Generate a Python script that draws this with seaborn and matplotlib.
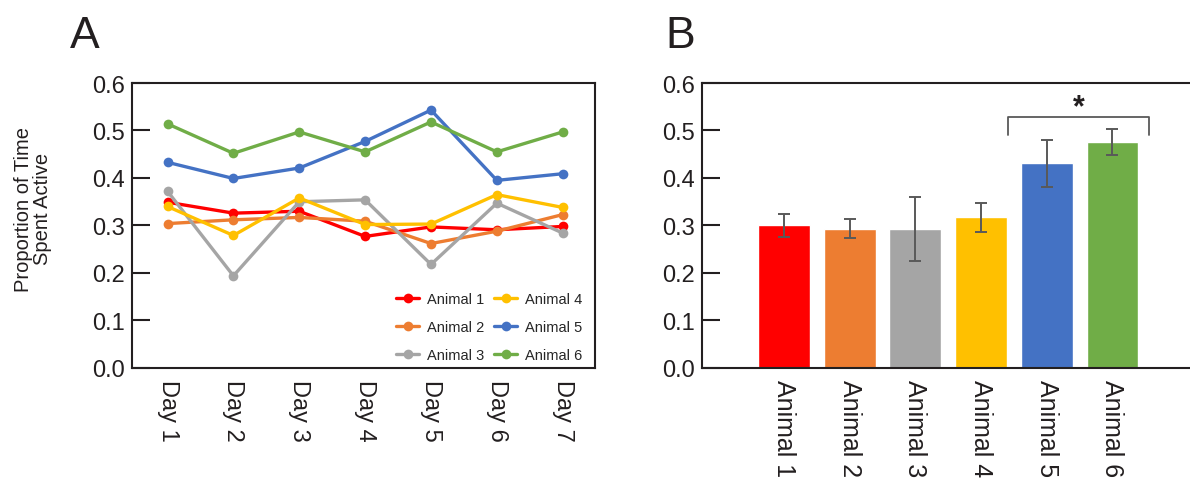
import numpy as np
import pandas as pd
import matplotlib
matplotlib.use("Agg")
import matplotlib.pyplot as plt
import seaborn as sns

sns.set_style("white")
plt.rcParams['font.family'] = ['Liberation Sans', 'DejaVu Sans']

days = ["Day 1", "Day 2", "Day 3", "Day 4", "Day 5", "Day 6", "Day 7"]
animals = ["Animal 1", "Animal 2", "Animal 3", "Animal 4", "Animal 5", "Animal 6"]
colors = ["#FF0000", "#ED7D31", "#A5A5A5", "#FFC000", "#4472C4", "#70AD47"]

# panel A: daily proportion per animal
animal1 = [0.349, 0.326, 0.330, 0.277, 0.297, 0.291, 0.298]
animal2 = [0.304, 0.312, 0.317, 0.309, 0.262, 0.288, 0.323]
animal3 = [0.372, 0.194, 0.350, 0.354, 0.218, 0.347, 0.284]
animal4 = [0.340, 0.279, 0.358, 0.302, 0.303, 0.365, 0.338]
animal5 = [0.433, 0.399, 0.421, 0.477, 0.543, 0.395, 0.409]
animal6 = [0.514, 0.452, 0.497, 0.455, 0.518, 0.455, 0.497]

# panel B: mean +/- error
means = [0.300, 0.293, 0.293, 0.317, 0.431, 0.476]
errs = [0.024, 0.020, 0.067, 0.030, 0.050, 0.027]

df = pd.DataFrame({
    "day": days * 6,
    "value": animal1 + animal2 + animal3 + animal4 + animal5 + animal6,
    "animal": np.repeat(animals, len(days)),
})

fig = plt.figure(figsize=(11.9, 4.85), dpi=100)
axA = fig.add_axes([0.1109, 0.2392, 0.3891, 0.5876])
axB = fig.add_axes([0.5897, 0.2392, 0.4103, 0.5876])

spine_col = "#231F20"

sns.lineplot(data=df, x="day", y="value", hue="animal", palette=colors,
             marker="o", markersize=7, markeredgewidth=0, linewidth=2.4,
             sort=False, legend=False, ax=axA)
axA.set_xlim(-0.54, 6.49)
axA.set_ylim(0, 0.6)
axA.set_yticks(np.arange(0, 0.61, 0.1))
axA.set_yticklabels([f"{v:.1f}" for v in np.arange(0, 0.61, 0.1)])
axA.set_xlabel("")
axA.set_ylabel("Proportion of Time\nSpent Active", fontsize=14.5,
               color="#231F20", linespacing=1.0)
axA.yaxis.set_label_coords(-0.172, 0.56)
for s in axA.spines.values():
    s.set_color(spine_col)
    s.set_linewidth(1.5)

handles = axA.lines[:6]
axA.legend(handles, animals, ncol=2, loc="lower right", frameon=False,
           fontsize=10.5, handlelength=1.6, columnspacing=0.7,
           labelspacing=0.95, handletextpad=0.5,
           bbox_to_anchor=(1.0, -0.025))

sns.barplot(x=animals, y=means, hue=animals, palette=colors, saturation=1,
            width=0.79, legend=False, errorbar=None, ax=axB)
axB.errorbar(np.arange(len(animals)), means, yerr=errs, fmt="none",
             ecolor="#595959", elinewidth=1.4, capsize=4, capthick=1.4)
axB.set_xlim(-1.25, 6.18)
axB.set_ylim(0, 0.6)
axB.set_yticks(np.arange(0, 0.61, 0.1))
axB.set_yticklabels([f"{v:.1f}" for v in np.arange(0, 0.61, 0.1)])
axB.set_xlabel("")
axB.set_ylabel("")
axB.spines["right"].set_visible(False)
for s in ["left", "top", "bottom"]:
    axB.spines[s].set_color(spine_col)
    axB.spines[s].set_linewidth(1.5)

# significance bracket
axB.plot([3.41, 3.41, 5.56, 5.56], [0.49, 0.529, 0.529, 0.49],
         color="#595959", lw=1.3, clip_on=False)
axB.text(4.49, 0.518, "*", ha="center", va="bottom", fontsize=22,
         fontweight="bold", color="#231F20")

for ax, fs in [(axA, 17), (axB, 18)]:
    ax.tick_params(axis="y", direction="in", length=13, width=1.5,
                   color=spine_col, labelsize=17, pad=5, left=True)
    ax.tick_params(axis="x", length=0, labelsize=fs, pad=8)
    for lab in ax.get_xticklabels():
        lab.set_rotation(-90)
        lab.set_va("top")
        lab.set_ha("center")
    for lab in ax.get_yticklabels() + ax.get_xticklabels():
        lab.set_color("#231F20")

fig.text(0.0588, 0.901, "A", fontsize=32, color="#231F20", va="baseline")
fig.text(0.559, 0.901, "B", fontsize=32, color="#231F20", va="baseline")

fig.savefig("out.png", dpi=100)
